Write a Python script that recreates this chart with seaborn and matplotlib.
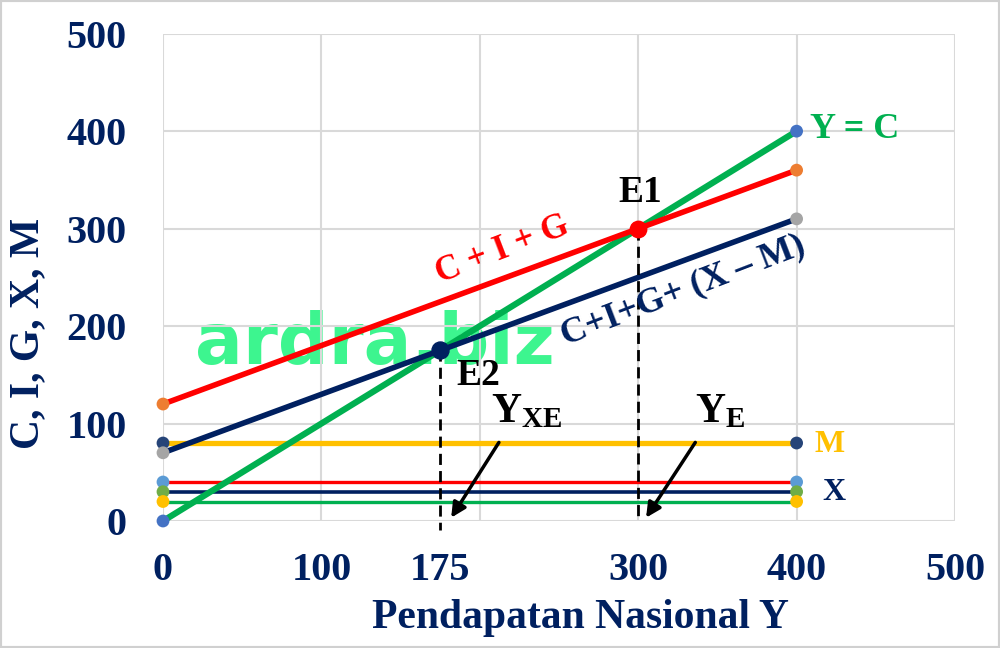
import matplotlib
matplotlib.use("Agg")
import matplotlib.pyplot as plt
import seaborn as sns
import pandas as pd
from matplotlib.patches import Rectangle

# ---- data ----
x_ends = [0, 400]
y_eq_c = [0, 400]          # Y = C
c_i_g = [120, 360]         # C + I + G
c_i_g_xm = [70, 310]       # C+I+G+(X-M)
m_line = [80, 80]          # M
flat_40 = [40, 40]
flat_30 = [30, 30]
flat_20 = [20, 20]
e1 = (300, 300)
e2 = (175, 175)
xtick_vals = [0, 100, 175, 300, 400, 500]
xtick_labels = ["0", "100", "175", "300", "400", "500"]
ytick_vals = [0, 100, 200, 300, 400, 500]
grid_vals = [0, 100, 200, 300, 400, 500]

sns.set_theme(style="white")
plt.rcParams['font.family'] = ['Liberation Serif', 'DejaVu Serif']
plt.rcParams['font.weight'] = 'bold'
plt.rcParams['mathtext.fontset'] = 'custom'
plt.rcParams['mathtext.rm'] = 'Liberation Serif:bold'
plt.rcParams['mathtext.bf'] = 'Liberation Serif:bold'
plt.rcParams['mathtext.it'] = 'Liberation Serif:bold'

NAVY = "#002060"
GREEN = "#00B050"
RED = "#FF0000"
YEL = "#FFC000"

fig = plt.figure(figsize=(10, 6.48), dpi=100)
ax = fig.add_axes([0.163, 0.196, 0.792, 0.752])

for g in grid_vals:
    ax.axvline(g, color="#D9D9D9", lw=1.5, zorder=1)
    ax.axhline(g, color="#D9D9D9", lw=1.5, zorder=1)

# watermark (below grid and lines)
ax.text(134, 181, "ardra.biz", fontsize=51, fontweight='bold', family='DejaVu Sans',
        color="#3DF58F", ha='center', va='center', zorder=0.5)

series = [
    (flat_40, RED, 2.4, "#5B9BD5"),
    (flat_30, NAVY, 2.6, "#70AD47"),
    (flat_20, GREEN, 2.4, YEL),
    (m_line, YEL, 3.8, "#264478"),
    (y_eq_c, GREEN, 4.5, "#4472C4"),
    (c_i_g_xm, NAVY, 4, "#A5A5A5"),
    (c_i_g, RED, 4, "#ED7D31"),
]
for i, (ys, col, lw, mcol) in enumerate(series):
    df = pd.DataFrame({"x": x_ends, "y": ys})
    sns.lineplot(data=df, x="x", y="y", ax=ax, color=col, linewidth=lw, zorder=3 + i)
    ax.scatter(x_ends, ys, s=85, color=mcol, zorder=20, clip_on=False, edgecolors='none')

# dashed verticals
ax.plot([e2[0], e2[0]], [e2[1], -9], ls=(0, (4, 2.2)), color='black', lw=2, zorder=15, clip_on=False)
ax.plot([e1[0], e1[0]], [e1[1], 0], ls=(0, (4, 2.2)), color='black', lw=2, zorder=15, clip_on=False)

# equilibrium points
ax.scatter([e1[0]], [e1[1]], s=140, color=RED, zorder=25)
ax.scatter([e2[0]], [e2[1]], s=150, color=NAVY, zorder=25)

# arrows
ax.annotate("", xy=(181, 1), xytext=(213, 83),
            arrowprops=dict(arrowstyle='-|>', color='black', lw=2.5, mutation_scale=22), zorder=16)
ax.annotate("", xy=(304, 1), xytext=(337, 83),
            arrowprops=dict(arrowstyle='-|>', color='black', lw=2.5, mutation_scale=22), zorder=16)

# labels
ax.text(408.5, 393, "Y = C", color=GREEN, fontsize=26, fontweight='bold', va='baseline', ha='left')
ax.text(214.5, 278, "C + I + G", color=RED, fontsize=25, fontweight='bold', rotation=21,
        ha='center', va='center', zorder=30)
ax.text(328, 236.5, "C+I+G+ (X – M)", color=NAVY, fontsize=26, fontweight='bold', rotation=21,
        ha='center', va='center', zorder=30)
ax.text(301, 327, "E1", color='black', fontsize=27, fontweight='bold', ha='center', va='baseline', zorder=30)
ax.text(185.5, 139.5, "E2", color='black', fontsize=27, fontweight='bold', ha='left', va='baseline', zorder=30)
ax.text(207, 101.5, r"$\mathrm{Y}_{\mathrm{XE}}$", color='black', fontsize=30, ha='left', va='baseline', zorder=30)
ax.text(336, 101.5, r"$\mathrm{Y}_{\mathrm{E}}$", color='black', fontsize=30, ha='left', va='baseline', zorder=30)
ax.text(411, 71, "M", color=YEL, fontsize=23, fontweight='bold', ha='left', va='baseline')
ax.text(416, 21.5, "X", color=NAVY, fontsize=23, fontweight='bold', ha='left', va='baseline')

ax.set_xlim(0, 500)
ax.set_ylim(0, 500)
ax.set_xticks(xtick_vals)
ax.set_xticklabels(xtick_labels)
ax.set_yticks(ytick_vals)
ax.grid(False)
ax.tick_params(axis='both', which='both', length=0, labelsize=29, labelcolor=NAVY)
ax.tick_params(axis='x', pad=22)
ax.tick_params(axis='y', pad=26)
for lbl in ax.get_xticklabels() + ax.get_yticklabels():
    lbl.set_fontweight('bold')
for s in ax.spines.values():
    s.set_visible(False)

ax.set_xlabel("Pendapatan Nasional Y", fontsize=30, fontweight='bold', color=NAVY)
ax.set_ylabel("C, I, G, X, M", fontsize=30, fontweight='bold', color=NAVY)
ax.xaxis.set_label_coords(0.527, -0.16)
ax.yaxis.set_label_coords(-0.146, 0.386)

fig.patches.append(Rectangle((0, 0), 1, 1, transform=fig.transFigure, fill=False,
                             edgecolor="#D0D0D0", lw=3))

fig.savefig("out.png", dpi=100)
